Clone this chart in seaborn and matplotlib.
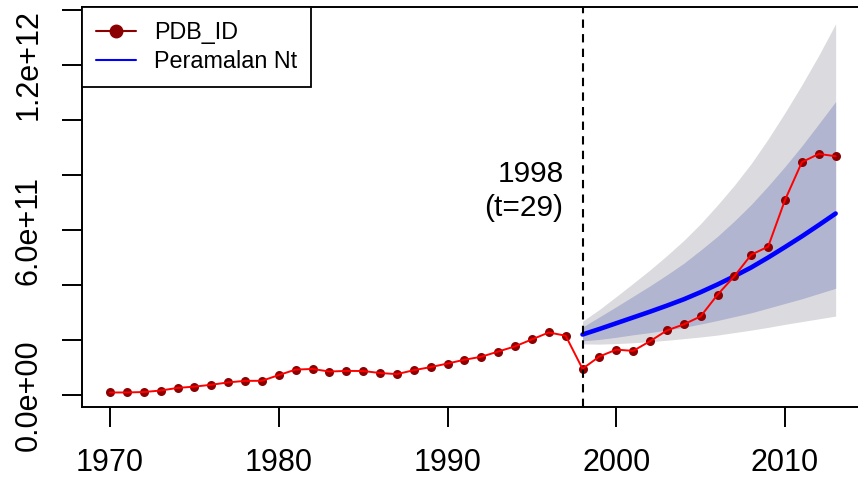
import numpy as np
import pandas as pd
import matplotlib
matplotlib.use("Agg")
import matplotlib.pyplot as plt
import seaborn as sns
from matplotlib.lines import Line2D
from matplotlib.ticker import FixedLocator, FixedFormatter

# ---- data (PDB in billions USD) ----
years = list(range(1970, 2014))
pdb_bn = [9.15, 9.33, 10.85, 16.27, 25.80, 30.46, 37.27, 45.81, 51.46, 51.64,
          72.48, 92.47, 94.70, 85.37, 87.61, 87.34, 79.95, 75.93, 90.22, 101.46,
          114.43, 128.17, 139.12, 158.01, 176.89, 202.13, 227.37, 215.75, 95.45, 140.00,
          165.02, 160.45, 195.66, 234.77, 256.84, 285.87, 364.57, 432.22, 510.23, 539.58,
          709.19, 846.83, 876.72, 868.35]

# ---- forecast (units of 1e11) ----
fc_years = list(range(1998, 2014))
fc_mean = [2.20, 2.40, 2.61, 2.82, 3.03, 3.25, 3.48, 3.74, 4.02, 4.32, 4.64, 5.00, 5.38, 5.77, 6.18, 6.60]
fc_lo95 = [1.86, 1.85, 1.87, 1.90, 1.94, 1.99, 2.05, 2.11, 2.18, 2.27, 2.36, 2.46, 2.57, 2.67, 2.77, 2.87]
fc_lo80 = [1.97, 2.02, 2.10, 2.19, 2.27, 2.36, 2.46, 2.58, 2.71, 2.85, 2.99, 3.16, 3.33, 3.50, 3.69, 3.88]
fc_hi80 = [2.47, 2.84, 3.21, 3.59, 3.97, 4.37, 4.79, 5.27, 5.77, 6.33, 6.93, 7.60, 8.31, 9.06, 9.86, 10.67]
fc_hi95 = [2.68, 3.11, 3.58, 4.06, 4.55, 5.07, 5.62, 6.23, 6.91, 7.63, 8.42, 9.31, 10.27, 11.28, 12.35, 13.50]

ytick_vals = [0, 2e11, 4e11, 6e11, 8e11, 1e12, 1.2e12, 1.4e12]
ytick_labels = ["0.0e+00", "", "", "6.0e+11", "", "", "1.2e+12", ""]
xtick_vals = [1970, 1980, 1990, 2000, 2010]
cut_year = 1998
cut_label = "1998\n(t=29)"
cut_label_y = 7.42e11

df = pd.DataFrame({"Tahun": years, "PDB_ID": np.array(pdb_bn) * 1e9})
fc = pd.DataFrame({
    "Tahun": fc_years,
    "mean": np.array(fc_mean) * 1e11,
    "lo95": np.array(fc_lo95) * 1e11,
    "lo80": np.array(fc_lo80) * 1e11,
    "hi80": np.array(fc_hi80) * 1e11,
    "hi95": np.array(fc_hi95) * 1e11,
})

sns.set_theme(style="ticks")
plt.rcParams["font.family"] = ["Liberation Sans", "DejaVu Sans"]
plt.rcParams["text.color"] = "black"
plt.rcParams["xtick.labelcolor"] = "black"
plt.rcParams["ytick.labelcolor"] = "black"

fig = plt.figure(figsize=(8.58, 4.84), dpi=100)
fig.patch.set_facecolor("white")
ax = fig.add_axes([82 / 858, 77 / 484, 783 / 858, 400 / 484])
ax.set_facecolor("white")

ax.fill_between(fc["Tahun"], fc["lo95"], fc["hi95"], color="#DBDBDF", lw=0, zorder=1)
ax.fill_between(fc["Tahun"], fc["lo80"], fc["hi80"], color="#B1B5CF", lw=0, zorder=2)
sns.lineplot(data=fc, x="Tahun", y="mean", color="#0000FF", lw=3.3, ax=ax, zorder=3)
sns.scatterplot(data=df, x="Tahun", y="PDB_ID", color="#8B0000", s=42, linewidth=0,
                ax=ax, zorder=4)
sns.lineplot(data=df, x="Tahun", y="PDB_ID", color="#FF0000", lw=1.4, ax=ax, zorder=5)
ax.axvline(cut_year, color="black", ls=(0, (4, 3)), lw=1.5, zorder=6)

ax.annotate(cut_label, xy=(cut_year, cut_label_y), xytext=(-19, 0),
            textcoords="offset pixels", ha="right", va="center",
            multialignment="right", fontsize=21.5, linespacing=1.25, color="black")

ax.set_xlim(1968.34, 2014.74)
ax.set_ylim(-0.0436e12, 1.411e12)

ax.xaxis.set_major_locator(FixedLocator(xtick_vals))
ax.yaxis.set_major_locator(FixedLocator(ytick_vals))
ax.yaxis.set_major_formatter(FixedFormatter(ytick_labels))
for lab in ax.get_yticklabels():
    lab.set_rotation(90)
    lab.set_va("center")

ax.tick_params(axis="both", direction="out", length=14.4, width=1.4, colors="black",
               labelcolor="black", labelsize=22)
ax.tick_params(axis="x", pad=15)
ax.tick_params(axis="y", pad=13)
ax.set_xlabel("")
ax.set_ylabel("")
for sp in ax.spines.values():
    sp.set_visible(True)
    sp.set_color("black")
    sp.set_linewidth(1.4)

handles = [Line2D([], [], color="#8B0000", marker="o", markersize=9, lw=1.5),
           Line2D([], [], color="#0000FF", lw=1.5)]
leg = ax.legend(handles, ["PDB_ID", "Peramalan Nt"], loc="upper left",
                bbox_to_anchor=(0, 1), borderaxespad=0, frameon=True, fancybox=False,
                edgecolor="black", framealpha=1, fontsize=16.8, handlelength=1.7,
                handletextpad=0.8, borderpad=0.6, labelspacing=0.25)
leg.get_frame().set_linewidth(1.3)
for t in leg.get_texts():
    t.set_color("black")
leg.set_zorder(10)

fig.savefig("out.png", dpi=100)
